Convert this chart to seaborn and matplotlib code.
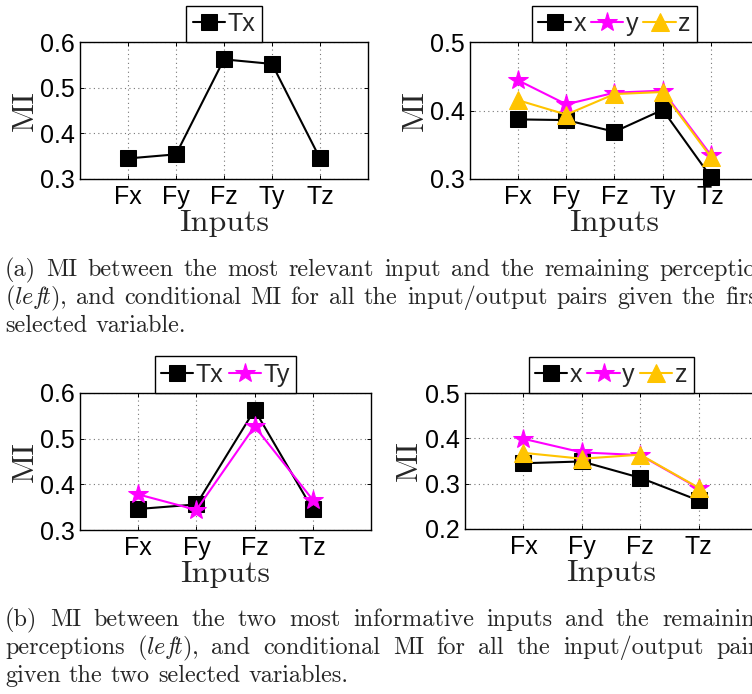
import numpy as np
import pandas as pd
import matplotlib
matplotlib.use("Agg")
import matplotlib.pyplot as plt
from matplotlib.ticker import FormatStrFormatter
import seaborn as sns

# ---- data -------------------------------------------------------------
inputs_a = ["Fx", "Fy", "Fz", "Ty", "Tz"]
mi_a_tx = [0.345, 0.354, 0.562, 0.552, 0.345]
cmi_a_x = [0.387, 0.386, 0.369, 0.401, 0.303]
cmi_a_y = [0.444, 0.409, 0.426, 0.429, 0.335]
cmi_a_z = [0.415, 0.394, 0.424, 0.427, 0.332]

inputs_b = ["Fx", "Fy", "Fz", "Tz"]
mi_b_tx = [0.346, 0.356, 0.563, 0.345]
mi_b_ty = [0.378, 0.344, 0.527, 0.366]
cmi_b_x = [0.345, 0.349, 0.313, 0.263]
cmi_b_y = [0.399, 0.369, 0.363, 0.290]
cmi_b_z = [0.368, 0.355, 0.364, 0.291]

yticks_left = [0.3, 0.4, 0.5, 0.6]
yticks_a_right = [0.3, 0.4, 0.5]
yticks_b_right = [0.2, 0.3, 0.4, 0.5]

LEFT = r"($\mathit{lef}\!\mathit{t}$),"
caption_a = [
    "(a) MI between the most relevant input and the remaining perceptions",
    LEFT + " and conditional MI for all the input/output pairs given the first",
    "selected variable.",
]
caption_b = [
    "(b) MI between the two most informative inputs and the remaining",
    "perceptions " + LEFT + " and conditional MI for all the input/output pairs",
    "given the two selected variables.",
]

# ---- style ------------------------------------------------------------
sns.set_style("white")
plt.rcParams["font.family"] = ["Liberation Sans", "DejaVu Sans"]
plt.rcParams["mathtext.fontset"] = "cm"

SQUARE = dict(marker="s", color="black", markersize=11, mfc="black", mec="black")
STAR = dict(marker="*", color="#FF00FF", markersize=15, mfc="#FF00FF", mec="#FF00FF")
TRI = dict(marker="^", color="#FFC400", markersize=13, mfc="#FFC400", mec="#FFC400")

W, H, DPI = 752, 694, 100
fig = plt.figure(figsize=(W / DPI, H / DPI), dpi=DPI)


def px_axes(left, top, width, height):
    return fig.add_axes([left / W, 1 - (top + height) / H, width / W, height / H])


def draw_panel(ax, cats, series, yticks):
    for name, vals, style in series:
        sns.lineplot(x=cats, y=vals, ax=ax, sort=False, linewidth=1.5,
                     label=name, **style)
    for line in ax.get_lines():
        line.set_clip_on(False)
    ax.set_xlim(-1, len(cats))
    ax.set_ylim(yticks[0], yticks[-1])
    ax.set_yticks(yticks)
    ax.set_xticks(range(len(cats)))
    ax.set_xticklabels(cats)
    ax.yaxis.set_major_formatter(FormatStrFormatter("%.1f"))
    ax.grid(True, linestyle=(0, (1, 3)), color="#777777", linewidth=0.8)
    ax.set_axisbelow(True)
    for sp in ax.spines.values():
        sp.set_visible(True)
        sp.set_color("black")
        sp.set_linewidth(1.0)
    ax.tick_params(direction="in", length=3, width=0.7, labelsize=18,
                   top=True, right=True, bottom=True, left=True, pad=4,
                   colors="black")
    ax.set_xlabel("Inputs", family="cmr10", fontsize=23, va="baseline")
    ax.xaxis.set_label_coords(0.5, -0.38)
    ax.set_ylabel("MI", family="cmr10", fontsize=23, va="center")
    ax.yaxis.set_label_coords(-0.19, 0.5)
    leg = ax.legend(loc="lower center", bbox_to_anchor=(0.5, 1.0),
                    ncol=len(series), frameon=True, fancybox=False,
                    edgecolor="black", framealpha=1, borderpad=0.25,
                    handlelength=1.3, handletextpad=0.1, columnspacing=0.2,
                    borderaxespad=0, fontsize=18)
    leg.get_frame().set_linewidth(1.0)


ax_tl = px_axes(80, 42, 288, 137)
ax_tr = px_axes(470, 42, 289, 137)
ax_bl = px_axes(80, 393, 291, 137)
ax_br = px_axes(465, 393, 292, 136)

draw_panel(ax_tl, inputs_a, [("Tx", mi_a_tx, SQUARE)], yticks_left)
draw_panel(ax_tr, inputs_a, [("x", cmi_a_x, SQUARE), ("y", cmi_a_y, STAR),
                             ("z", cmi_a_z, TRI)], yticks_a_right)
draw_panel(ax_bl, inputs_b, [("Tx", mi_b_tx, SQUARE), ("Ty", mi_b_ty, STAR)],
           yticks_left)
draw_panel(ax_br, inputs_b, [("x", cmi_b_x, SQUARE), ("y", cmi_b_y, STAR),
                             ("z", cmi_b_z, TRI)], yticks_b_right)

# ---- captions (justified word by word) -------------------------------
CAP_FS = 17.5
renderer = fig.canvas.get_renderer()
space_px = 0.333 * CAP_FS * DPI / 72


def caption_line(text, x0, y_base, anchor=None):
    words = text.split(" ")
    items = []
    for w in words:
        t = fig.text(0, 1 - y_base / H, w, family="cmr10", fontsize=CAP_FS,
                     ha="left", va="baseline")
        items.append((t, t.get_window_extent(renderer).width))
    if anchor is None:
        gap = space_px
    else:
        k, target = anchor
        gap = (target - x0 - sum(wd for _, wd in items[:k])) / k
    x = x0
    for t, wd in items:
        t.set_x(x / W)
        x += wd + gap


caption_line(caption_a[0], 5, 276, anchor=(10, 659))
caption_line(caption_a[1], 5, 304, anchor=(11, 725))
caption_line(caption_a[2], 5, 332)
caption_line(caption_b[0], 5, 626, anchor=(10, 662))
caption_line(caption_b[1], 5, 654, anchor=(9, 716))
caption_line(caption_b[2], 5, 682)

fig.savefig("out.png", dpi=DPI)
